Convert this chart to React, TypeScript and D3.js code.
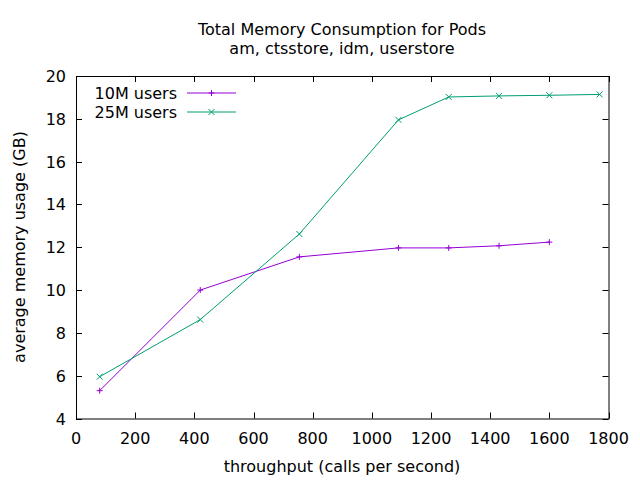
import * as d3 from "d3";
import React, { useRef, useEffect } from "react";

// throughput (calls per second) and memory (GB)
const throughput10M = [80, 420, 755, 1090, 1260, 1430, 1600];
const memory10M = [5.3, 10.0, 11.55, 11.97, 11.97, 12.07, 12.24];
const throughput25M = [80, 420, 755, 1090, 1260, 1430, 1600, 1770];
const memory25M = [5.95, 8.62, 12.62, 17.95, 19.02, 19.07, 19.1, 19.14];

const seriesNames = ["10M users", "25M users"];
const xTicks = [0, 200, 400, 600, 800, 1000, 1200, 1400, 1600, 1800];
const yTicks = [4, 6, 8, 10, 12, 14, 16, 18, 20];

const FONT = "'DejaVu Sans', sans-serif";

function App() {
    const ref = useRef<SVGSVGElement>(null);
    const width = 640;
    const height = 480;
    const margin = { top: 76, right: 31.5, bottom: 61.5, left: 76 };

    useEffect(() => {
        const svg = d3.select(ref.current);
        svg.selectAll("*").remove();

        const x = d3.scaleLinear().domain([0, 1800]).range([margin.left, width - margin.right]);
        const y = d3.scaleLinear().domain([4, 20]).range([height - margin.bottom, margin.top]);

        svg.append("rect").attr("width", width).attr("height", height).attr("fill", "white");

        const tickLen = 6;
        const axes = svg.append("g").attr("stroke", "black").attr("stroke-width", 1);

        xTicks.forEach((t) => {
            const px = Math.round(x(t)) + 0.5;
            axes.append("line").attr("x1", px).attr("x2", px)
                .attr("y1", y(4)).attr("y2", y(4) - tickLen);
            axes.append("line").attr("x1", px).attr("x2", px)
                .attr("y1", y(20)).attr("y2", y(20) + tickLen);
        });
        yTicks.forEach((t) => {
            const py = Math.round(y(t)) + 0.5;
            axes.append("line").attr("y1", py).attr("y2", py)
                .attr("x1", x(0)).attr("x2", x(0) + tickLen);
            axes.append("line").attr("y1", py).attr("y2", py)
                .attr("x1", x(1800)).attr("x2", x(1800) - tickLen);
        });

        const texts = svg.append("g").attr("font-family", FONT).attr("font-size", 16).attr("fill", "black");

        xTicks.forEach((t) => {
            texts.append("text").attr("x", x(t)).attr("y", 444)
                .attr("text-anchor", "middle").text(t);
        });
        yTicks.forEach((t) => {
            texts.append("text").attr("x", 66).attr("y", y(t) + 6)
                .attr("text-anchor", "end").text(t);
        });

        texts.append("text").attr("x", 342).attr("y", 35).attr("text-anchor", "middle")
            .text("Total Memory Consumption for Pods");
        texts.append("text").attr("x", 342).attr("y", 54).attr("text-anchor", "middle")
            .text("am, ctsstore, idm, userstore");
        texts.append("text").attr("x", 342).attr("y", 472).attr("text-anchor", "middle")
            .text("throughput (calls per second)");
        texts.append("text").attr("transform", "translate(25,247) rotate(-90)")
            .attr("text-anchor", "middle").text("average memory usage (GB)");

        const series = [
            { xs: throughput10M, ys: memory10M, color: "#9400d3", marker: "plus" },
            { xs: throughput25M, ys: memory25M, color: "#009e73", marker: "cross" },
        ];

        const line = d3.line<[number, number]>().x((d) => x(d[0])).y((d) => y(d[1]));
        const drawMarker = (g: any, cx: number, cy: number, kind: string, color: string) => {
            const s = 3;
            if (kind === "plus") {
                g.append("path").attr("d", `M${cx - s},${cy}H${cx + s}M${cx},${cy - s}V${cy + s}`)
                    .attr("stroke", color).attr("fill", "none");
            } else {
                g.append("path")
                    .attr("d", `M${cx - s},${cy - s}L${cx + s},${cy + s}M${cx - s},${cy + s}L${cx + s},${cy - s}`)
                    .attr("stroke", color).attr("fill", "none");
            }
        };

        series.forEach((s, i) => {
            const pts = s.xs.map((v, j) => [v, s.ys[j]] as [number, number]);
            const g = svg.append("g");
            g.append("path").attr("d", line(pts)).attr("fill", "none")
                .attr("stroke", s.color).attr("stroke-width", 1);
            pts.forEach((p) => drawMarker(g, x(p[0]), y(p[1]), s.marker, s.color));

            // legend
            const ly = 93 + i * 19;
            texts.append("text").attr("x", 177).attr("y", ly + 6)
                .attr("text-anchor", "end").text(seriesNames[i]);
            g.append("line").attr("x1", 187).attr("x2", 236).attr("y1", ly).attr("y2", ly)
                .attr("stroke", s.color);
            drawMarker(g, 211.5, ly, s.marker, s.color);
        });

        svg.append("rect").attr("x", x(0) + 0.5).attr("y", y(20) + 0.5)
            .attr("width", x(1800) - x(0)).attr("height", y(4) - y(20))
            .attr("fill", "none").attr("stroke", "black");
    }, []);

    return (
        <svg ref={ref} width={width} height={height}
            style={{ position: "absolute", left: 0, top: 0 }}></svg>
    );
}

export default App;
